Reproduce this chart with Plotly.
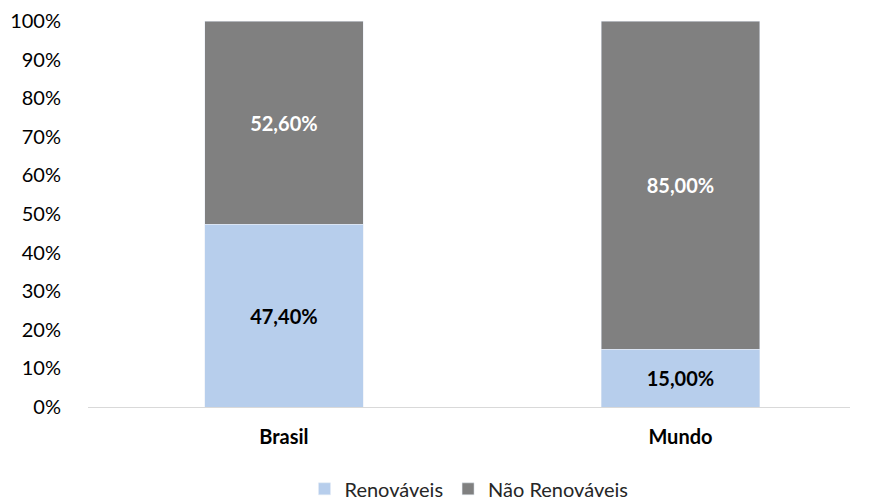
import plotly.graph_objects as go

regioes = ["Brasil", "Mundo"]
renovaveis = [47.40, 15.00]
nao_renovaveis = [52.60, 85.00]
ticks_y = list(range(0, 101, 10))

fonte = "Lato, Open Sans, sans-serif"

fig = go.Figure()

fig.add_trace(go.Bar(
    x=regioes, y=renovaveis, name="Renováveis",
    marker=dict(color="#B7CEEC"),
    texttemplate="%{y:.2f}%", textposition="inside", insidetextanchor="middle",
    textfont=dict(color="black", size=20, family=fonte, weight="bold"),
))
fig.add_trace(go.Bar(
    x=regioes, y=nao_renovaveis, name="Não Renováveis",
    marker=dict(color="#808080"),
    texttemplate="%{y:.2f}%", textposition="inside", insidetextanchor="middle",
    textfont=dict(color="white", size=20, family=fonte, weight="bold"),
))

# a página tem margem de 8px no body, por isso os deslocamentos
fig.update_layout(
    barmode="stack",
    bargap=0.6,
    separators=",.",
    width=869, height=501,
    margin=dict(l=80, r=27, t=13, b=102, autoexpand=False),
    plot_bgcolor="white", paper_bgcolor="white",
    font=dict(family=fonte, size=20, color="#262626"),
    showlegend=True,
    legend=dict(orientation="h", x=0.5, xanchor="center",
                y=-0.212, yanchor="middle",
                font=dict(size=20, color="#262626"), itemwidth=30,
                traceorder="normal"),
    uniformtext=dict(mode="show", minsize=10),
)
fig.update_xaxes(range=[-0.494, 1.4275], showline=True, linecolor="#D9D9D9", linewidth=1,
                 automargin=False,
                 tickfont=dict(size=20, color="black", weight="bold"),
                 ticks="outside", ticklen=12, tickcolor="rgba(0,0,0,0)")
fig.update_yaxes(range=[0, 100], tickmode="array", tickvals=ticks_y, automargin=False,
                 ticktext=[f"{v}%" for v in ticks_y],
                 showgrid=False, zeroline=False,
                 ticks="outside", ticklen=22, tickcolor="rgba(0,0,0,0)",
                 tickfont=dict(size=20, color="black"))

fig.write_html("out.html")
